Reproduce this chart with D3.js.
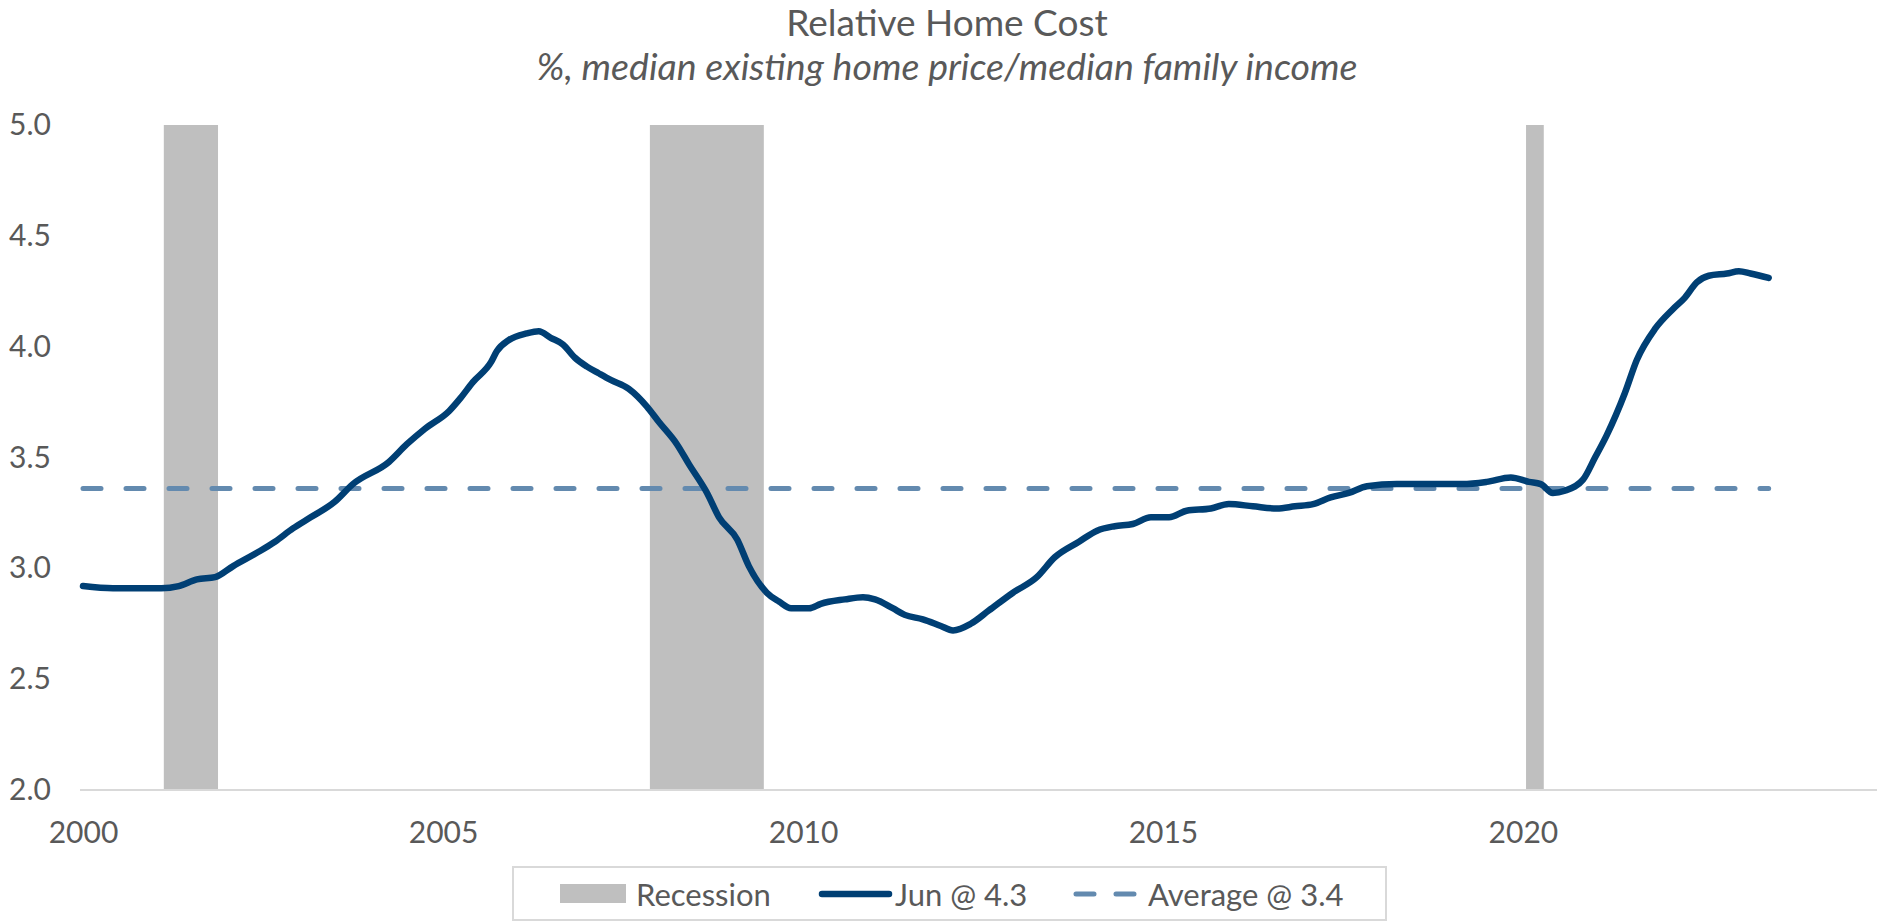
<!DOCTYPE html>
<html>
<head>
<meta charset="utf-8">
<script src="https://cdn.jsdelivr.net/npm/d3@7"></script>
<style>
  body { margin: 0; background: #fff; }
  text { font-family: Lato, "Open Sans", sans-serif; fill: #595959; }
</style>
</head>
<body>
<script>
// monthly points (ratio of median home price to median family income)
const months = [
  '2000-01','2000-06','2001-02','2001-05','2001-08','2001-11','2002-02','2002-06','2002-09','2002-12',
  '2003-03','2003-07','2003-10','2004-04','2004-07','2004-10','2005-02','2005-04','2005-06','2005-09',
  '2005-10','2005-12','2006-03','2006-05','2006-07','2006-09','2006-11','2007-01','2007-03','2007-05',
  '2007-08','2007-11','2008-01','2008-04','2008-06','2008-09','2008-11','2009-02','2009-04','2009-07',
  '2009-09','2009-11','2010-02','2010-04','2010-08','2010-11','2011-01','2011-04','2011-06','2011-09',
  '2011-12','2012-02','2012-05','2012-08','2012-12','2013-04','2013-07','2013-11','2014-02','2014-05',
  '2014-08','2014-11','2015-02','2015-05','2015-09','2015-12','2016-04','2016-08','2016-11','2017-02',
  '2017-05','2017-08','2017-11','2018-04','2018-08','2018-11','2019-03','2019-07','2019-11','2020-02',
  '2020-04','2020-06','2020-08','2020-11','2021-01','2021-03','2021-06','2021-08','2021-11','2022-02',
  '2022-04','2022-06','2022-08','2022-11','2023-01','2023-03','2023-06'
];
const values = [
  2.92,2.91,2.91,2.92,2.95,2.96,3.01,3.07,3.12,3.18,
  3.23,3.30,3.38,3.48,3.56,3.63,3.71,3.77,3.84,3.93,
  3.98,4.03,4.06,4.07,4.04,4.01,3.95,3.91,3.88,3.85,
  3.81,3.73,3.66,3.56,3.47,3.34,3.23,3.13,3.01,2.89,
  2.85,2.82,2.82,2.84,2.86,2.87,2.86,2.82,2.79,2.77,
  2.74,2.72,2.75,2.81,2.89,2.96,3.05,3.12,3.17,3.19,
  3.20,3.23,3.23,3.26,3.27,3.29,3.28,3.27,3.28,3.29,
  3.32,3.34,3.37,3.38,3.38,3.38,3.38,3.39,3.41,3.39,
  3.38,3.34,3.35,3.40,3.50,3.60,3.79,3.94,4.08,4.17,
  4.22,4.29,4.32,4.33,4.34,4.33,4.31
];
const average = 3.36;

const recessionStart = ['2001-03', '2007-12', '2020-02'];
const recessionEnd = ['2001-11', '2009-06', '2020-04'];

const yTicks = [2.0, 2.5, 3.0, 3.5, 4.0, 4.5, 5.0];
const legendLabels = ['Recession', 'Jun @ 4.3', 'Average @ 3.4'];

const parseMonth = d3.timeParse('%Y-%m');
const data = months.map((m, i) => ({ date: parseMonth(m), value: values[i] }));

const width = 1881, height = 921;

const svg = d3.select('body').append('svg')
    .attr('width', width)
    .attr('height', height);

const x = d3.scaleTime()
    .domain([new Date(2000, 0, 1), new Date(2025, 0, 1)])
    .range([83, 1883]);

const y = d3.scaleLinear()
    .domain([2, 5])
    .range([790, 125]);

// title
svg.append('text')
    .attr('x', 947)
    .attr('y', 36)
    .attr('text-anchor', 'middle')
    .attr('font-size', '37px')
    .text('Relative Home Cost');

svg.append('text')
    .attr('x', 947)
    .attr('y', 80)
    .attr('text-anchor', 'middle')
    .attr('font-size', '37.5px')
    .attr('font-style', 'italic')
    .text('%, median existing home price/median family income');

// recession bars
svg.append('g')
    .selectAll('rect')
    .data(recessionStart)
    .enter()
    .append('rect')
    .attr('x', (d) => x(d3.timeDay.offset(parseMonth(d), -15)))
    .attr('width', (d, i) => x(d3.timeDay.offset(parseMonth(recessionEnd[i]), 15)) - x(d3.timeDay.offset(parseMonth(d), -15)))
    .attr('y', y(5))
    .attr('height', y(2) - y(5))
    .attr('fill', '#bfbfbf');

// baseline
svg.append('line')
    .attr('x1', 80)
    .attr('x2', 1877)
    .attr('y1', y(2))
    .attr('y2', y(2))
    .attr('stroke', '#d9d9d9')
    .attr('stroke-width', 2);

// y axis
const yAxis = svg.append('g')
    .attr('transform', 'translate(51,0)')
    .call(d3.axisLeft(y).tickValues(yTicks).tickFormat(d3.format('.1f')).tickSize(0).tickPadding(0));
yAxis.select('.domain').remove();
yAxis.selectAll('text')
    .attr('font-size', '30px')
    .attr('font-family', 'Lato')
    .attr('fill', '#595959');

// x axis
const xAxis = svg.append('g')
    .attr('transform', `translate(0,${y(2)})`)
    .call(d3.axisBottom(x).ticks(d3.timeYear.every(5)).tickFormat(d3.timeFormat('%Y')).tickSize(0).tickPadding(32));
xAxis.select('.domain').remove();
xAxis.selectAll('text')
    .attr('font-size', '30px')
    .attr('font-family', 'Lato')
    .attr('fill', '#595959')
    .filter((d) => d.getFullYear() > 2020).remove();

// average dashed line
svg.append('line')
    .attr('x1', x(data[0].date))
    .attr('x2', x(data[data.length - 1].date))
    .attr('y1', y(average))
    .attr('y2', y(average))
    .attr('stroke', '#638aaf')
    .attr('stroke-width', 5)
    .attr('stroke-linecap', 'round')
    .attr('stroke-dasharray', '18,25');

// main line
const line = d3.line()
    .x((d) => x(d.date))
    .y((d) => y(d.value))
    .curve(d3.curveMonotoneX);

svg.append('path')
    .datum(data)
    .attr('d', line)
    .attr('fill', 'none')
    .attr('stroke', '#003f74')
    .attr('stroke-width', 6.5)
    .attr('stroke-linecap', 'round')
    .attr('stroke-linejoin', 'round');

// legend
const legend = svg.append('g').attr('id', 'legend');

legend.append('rect')
    .attr('x', 513)
    .attr('y', 867)
    .attr('width', 873)
    .attr('height', 53)
    .attr('fill', 'white')
    .attr('stroke', '#d9d9d9')
    .attr('stroke-width', 2);

legend.append('rect')
    .attr('x', 560)
    .attr('y', 884)
    .attr('width', 66)
    .attr('height', 19)
    .attr('fill', '#bfbfbf');

legend.append('line')
    .attr('x1', 822).attr('x2', 889)
    .attr('y1', 894).attr('y2', 894)
    .attr('stroke', '#003f74')
    .attr('stroke-width', 6.5)
    .attr('stroke-linecap', 'round');

legend.append('line')
    .attr('x1', 1076).attr('x2', 1136)
    .attr('y1', 894).attr('y2', 894)
    .attr('stroke', '#638aaf')
    .attr('stroke-width', 5)
    .attr('stroke-linecap', 'round')
    .attr('stroke-dasharray', '18,22');

legend.selectAll('text.label')
    .data(legendLabels)
    .enter()
    .append('text')
    .attr('class', 'label')
    .attr('x', (d, i) => [636, 895, 1148][i])
    .attr('y', 906)
    .attr('font-size', '31px')
    .text((d) => d);
</script>
</body>
</html>
